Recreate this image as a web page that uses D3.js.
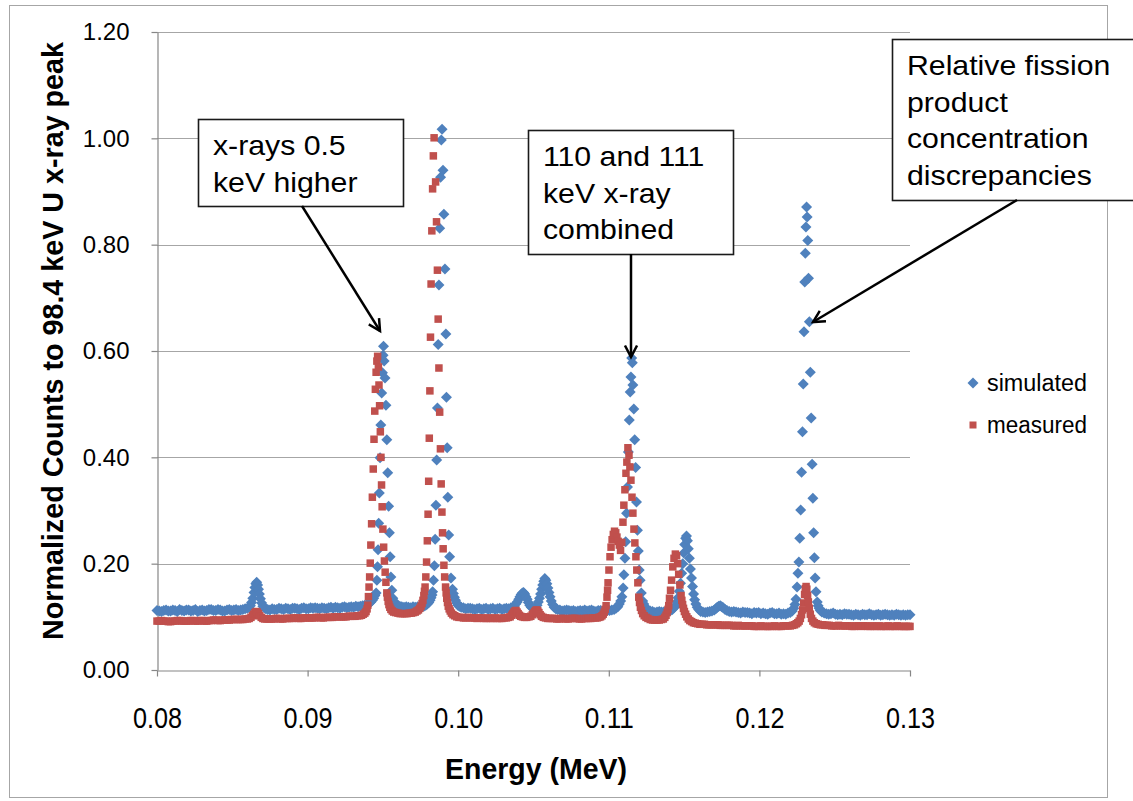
<!DOCTYPE html>
<html>
<head>
<meta charset="utf-8">
<script src="https://cdn.jsdelivr.net/npm/d3@7"></script>
<style>
  html, body { margin: 0; padding: 0; background: #ffffff; }
  svg { display: block; }
</style>
</head>
<body>
<svg id="chart" width="1133" height="801"></svg>
<script>
// Axis ticks
const xTickValues = [0.08, 0.09, 0.10, 0.11, 0.12, 0.13];
const xTickLabels = ["0.08", "0.09", "0.10", "0.11", "0.12", "0.13"];
const yTickValues = [0, 0.2, 0.4, 0.6, 0.8, 1.0, 1.2];
const yTickLabels = ["0.00", "0.20", "0.40", "0.60", "0.80", "1.00", "1.20"];
const seriesNames = ["simulated", "measured"];

// Spectra: [energy (keV), counts normalized to the 98.4 keV U x-ray peak]
const simulated = [
  [80.0,.112],[80.15,.111],[80.3,.110],[80.45,.112],[80.6,.113],[80.75,.111],[80.9,.111],[81.05,.113],[81.2,.112],[81.35,.110],
  [81.5,.114],[81.65,.112],[81.8,.111],[81.95,.113],[82.1,.113],[82.25,.111],[82.4,.112],[82.55,.114],[82.7,.110],[82.85,.112],
  [83.0,.113],[83.15,.111],[83.3,.112],[83.45,.114],[83.6,.114],[83.75,.112],[83.9,.112],[84.05,.114],[84.2,.113],[84.35,.111],
  [84.5,.111],[84.65,.113],[84.8,.114],[84.95,.112],[85.1,.113],[85.25,.114],[85.4,.112],[85.55,.113],[85.7,.114],[85.85,.115],[86.0,.116],
  [86.1,.118],[86.2,.121],[86.28,.127],[86.36,.135],[86.44,.146],[86.5,.155],[86.56,.162],[86.62,.165],[86.68,.160],[86.74,.152],
  [86.8,.143],[86.87,.134],[86.95,.126],[87.03,.120],[87.12,.117],[87.22,.115],
  [87.35,.114],[87.5,.113],[87.65,.115],[87.8,.114],[87.95,.114],[88.1,.116],[88.25,.115],[88.4,.114],[88.55,.116],[88.7,.115],
  [88.85,.114],[89.0,.116],[89.15,.116],[89.3,.115],[89.45,.114],[89.6,.116],[89.75,.117],[89.9,.115],[90.05,.115],[90.2,.117],
  [90.35,.116],[90.5,.117],[90.65,.116],[90.8,.115],[90.95,.117],[91.1,.116],[91.25,.115],[91.4,.117],[91.55,.118],[91.7,.116],
  [91.85,.118],[92.0,.117],[92.15,.116],[92.3,.118],[92.45,.119],[92.6,.117],[92.75,.118],[92.9,.119],[93.05,.118],[93.2,.120],
  [93.35,.119],[93.5,.120],[93.65,.121],[93.8,.122],[93.95,.123],[94.08,.125],[94.2,.128],[94.3,.131],[94.39,.135],[94.47,.140],
  [94.55,.145],[94.6,.169],[94.64,.194],[94.68,.226],[94.72,.276],[94.76,.333],[94.81,.399],[94.86,.461],[94.92,.521],[94.97,.559],
  [95.01,.592],[95.04,.609],[95.08,.581],[95.14,.549],[95.2,.498],[95.26,.433],[95.32,.371],[95.38,.308],[95.43,.258],[95.48,.213],
  [95.53,.175],[95.59,.150],[95.66,.135],[95.72,.130],[95.8,.126],[95.9,.123],[96.0,.121],[96.12,.120],[96.25,.119],[96.4,.118],
  [96.55,.119],[96.7,.118],[96.85,.117],[97.0,.119],[97.15,.118],[97.3,.119],[97.45,.118],[97.6,.119],[97.72,.120],[97.84,.122],
  [97.95,.124],[98.05,.127],[98.13,.131],[98.2,.136],[98.26,.141],
  [98.3,.147],[98.36,.169],[98.42,.196],[98.47,.246],[98.52,.310],[98.57,.395],[98.62,.493],[98.67,.612],[98.72,.724],[98.77,.831],
  [98.83,.927],[98.88,.997],[98.93,1.017],[98.99,.940],[99.05,.857],[99.12,.754],[99.18,.632],[99.22,.513],[99.27,.418],[99.31,.325],
  [99.37,.254],[99.43,.213],[99.52,.173],[99.62,.152],[99.68,.144],[99.75,.137],[99.82,.131],[99.9,.126],[99.98,.122],[100.08,.120],
  [100.2,.118],[100.35,.117],[100.5,.115],[100.65,.116],[100.8,.116],[100.95,.115],[101.1,.114],[101.25,.115],[101.4,.116],[101.55,.114],
  [101.7,.115],[101.85,.116],[102.0,.114],[102.15,.115],[102.3,.116],[102.45,.114],[102.6,.115],[102.75,.116],[102.9,.114],[103.05,.115],
  [103.2,.116],[103.35,.115],[103.5,.117],[103.62,.118],
  [103.72,.120],[103.82,.124],[103.92,.128],[104.02,.133],[104.1,.138],[104.18,.142],[104.26,.145],[104.34,.146],[104.42,.143],[104.5,.138],
  [104.58,.133],[104.66,.127],[104.75,.122],[104.85,.118],[104.95,.116],[105.05,.116],[105.15,.118],
  [105.24,.122],[105.32,.128],[105.4,.135],[105.47,.143],[105.54,.152],[105.61,.160],[105.68,.167],[105.75,.172],[105.82,.169],[105.89,.162],
  [105.96,.154],[106.03,.146],[106.1,.138],[106.18,.130],[106.27,.123],[106.37,.118],[106.48,.115],
  [106.6,.114],[106.75,.113],[106.9,.111],[107.05,.112],[107.2,.113],[107.35,.112],[107.5,.111],[107.65,.112],[107.8,.110],[107.95,.111],
  [108.1,.112],[108.25,.111],[108.4,.113],[108.55,.111],[108.7,.112],[108.85,.113],[109.0,.111],[109.15,.110],[109.3,.112],[109.45,.112],
  [109.6,.110],[109.75,.111],[109.9,.112],[110.05,.112],[110.2,.113],[110.35,.114],[110.48,.116],[110.6,.119],[110.7,.124],[110.79,.130],[110.87,.138],
  [110.95,.154],[111.0,.179],[111.07,.210],[111.12,.241],[111.18,.295],[111.24,.344],[111.3,.410],[111.36,.470],[111.42,.523],[111.47,.551],
  [111.52,.587],[111.56,.578],[111.6,.536],[111.66,.491],[111.72,.433],[111.78,.381],[111.84,.316],[111.9,.263],[111.96,.224],[112.02,.188],
  [112.08,.169],[112.16,.145],[112.25,.130],[112.32,.124],[112.4,.119],[112.5,.115],[112.62,.113],[112.75,.111],[112.9,.110],[113.05,.108],
  [113.2,.109],[113.35,.110],[113.5,.109],[113.65,.109],[113.8,.110],[113.95,.111],[114.1,.112],[114.22,.114],[114.33,.117],
  [114.43,.121],[114.52,.128],[114.6,.136],[114.68,.148],[114.76,.163],[114.84,.182],[114.91,.200],[114.98,.220],[115.04,.236],[115.1,.248],
  [115.16,.252],[115.22,.243],[115.28,.228],[115.35,.210],[115.42,.190],[115.49,.173],[115.56,.157],[115.63,.143],[115.7,.132],[115.78,.124],
  [115.87,.118],[115.97,.114],
  [116.1,.110],[116.25,.109],[116.4,.108],[116.55,.109],[116.7,.110],[116.85,.111],[117.0,.113],[117.1,.115],[117.2,.118],[117.3,.120],
  [117.4,.121],[117.5,.119],[117.6,.117],[117.72,.114],[117.85,.112],[118.0,.110],[118.15,.109],[118.3,.110],[118.45,.109],[118.6,.108],
  [118.75,.107],[118.9,.109],[119.05,.108],[119.2,.108],[119.35,.107],[119.5,.106],[119.65,.108],[119.8,.107],[119.95,.108],[120.1,.106],
  [120.25,.107],[120.4,.106],[120.55,.105],[120.7,.107],[120.85,.108],[121.0,.106],[121.15,.106],[121.3,.107],[121.45,.105],[121.6,.106],
  [121.75,.105],[121.9,.107],[122.05,.108],[122.18,.111],[122.28,.116],[122.36,.123],[122.43,.133],
  [122.5,.156],[122.56,.182],[122.62,.203],[122.68,.248],[122.74,.301],[122.8,.372],[122.86,.448],[122.91,.538],[122.96,.636],[123.01,.730],
  [123.05,.784],[123.09,.833],[123.13,.871],[123.17,.852],[123.21,.808],[123.26,.737],[123.32,.655],[123.38,.560],[123.44,.474],[123.5,.387],
  [123.55,.323],[123.6,.258],[123.65,.211],[123.7,.173],[123.76,.147],[123.84,.128],[123.9,.121],[123.97,.116],[124.05,.112],[124.15,.109],
  [124.3,.107],[124.45,.106],[124.6,.105],[124.75,.106],[124.9,.107],[125.05,.105],[125.2,.104],[125.35,.105],[125.5,.104],[125.65,.106],
  [125.8,.105],[125.95,.105],[126.1,.104],[126.25,.103],[126.4,.105],[126.55,.104],[126.7,.103],[126.85,.105],[127.0,.104],[127.15,.104],
  [127.3,.106],[127.45,.104],[127.6,.103],[127.75,.104],[127.9,.105],[128.05,.103],[128.2,.104],[128.35,.105],[128.5,.104],[128.65,.103],
  [128.8,.104],[128.95,.103],[129.1,.105],[129.25,.104],[129.4,.103],[129.55,.104],[129.7,.103],[129.85,.104],[130.0,.104]
];

const measured = [
  [80.0,.092],[80.15,.092],[80.3,.093],[80.45,.092],[80.6,.092],[80.75,.091],[80.9,.091],[81.05,.092],[81.2,.092],[81.35,.093],
  [81.5,.093],[81.65,.092],[81.8,.092],[81.95,.092],[82.1,.092],[82.25,.093],[82.4,.093],[82.55,.092],[82.7,.092],[82.85,.093],
  [83.0,.093],[83.15,.092],[83.3,.092],[83.45,.093],[83.6,.093],[83.75,.094],[83.9,.094],[84.05,.093],[84.2,.093],[84.35,.094],
  [84.5,.094],[84.65,.094],[84.8,.094],[84.95,.095],[85.1,.095],[85.25,.095],[85.4,.095],[85.55,.095],[85.7,.095],[85.85,.096],[86.0,.096],
  [86.12,.097],[86.24,.099],[86.34,.102],[86.42,.105],[86.5,.108],[86.58,.110],[86.66,.109],[86.74,.106],[86.82,.102],[86.92,.099],
  [87.03,.097],[87.15,.096],
  [87.3,.096],[87.45,.096],[87.6,.096],[87.75,.096],[87.9,.097],[88.05,.097],[88.2,.096],[88.35,.096],[88.5,.097],[88.65,.097],
  [88.8,.097],[88.95,.097],[89.1,.098],[89.25,.098],[89.4,.097],[89.55,.097],[89.7,.098],[89.85,.098],[90.0,.098],[90.15,.098],
  [90.3,.098],[90.45,.098],[90.6,.099],[90.75,.099],[90.9,.098],[91.05,.098],[91.2,.099],[91.35,.099],[91.5,.099],[91.65,.099],
  [91.8,.100],[91.95,.100],[92.1,.100],[92.25,.100],[92.4,.100],[92.55,.100],[92.7,.101],[92.85,.101],[93.0,.101],[93.15,.101],
  [93.3,.102],[93.45,.102],[93.58,.103],[93.7,.105],[93.8,.107],[93.88,.110],[93.95,.115],[94.0,.122],[94.04,.138],
  [94.08,.156],[94.12,.175],[94.16,.201],[94.2,.235],[94.25,.275],[94.3,.325],[94.36,.378],[94.41,.434],[94.46,.487],[94.5,.528],
  [94.55,.560],[94.6,.581],[94.65,.590],[94.7,.570],[94.74,.536],[94.78,.497],[94.83,.448],[94.87,.400],[94.91,.348],[94.95,.307],
  [95.0,.265],[95.05,.231],[95.1,.205],[95.15,.184],[95.2,.165],[95.26,.145],[95.3,.137],[95.35,.129],[95.4,.123],[95.46,.118],
  [95.53,.114],[95.62,.111],[95.72,.109],[95.85,.108],[96.0,.107],[96.15,.106],[96.3,.106],[96.45,.106],[96.6,.106],[96.75,.107],
  [96.9,.107],[97.03,.108],[97.15,.109],[97.26,.111],[97.36,.113],[97.45,.116],[97.53,.120],[97.6,.125],[97.66,.131],[97.72,.140],[97.76,.148],
  [97.8,.156],[97.85,.175],[97.9,.203],[97.95,.243],[98.0,.293],[98.04,.355],[98.08,.436],[98.12,.525],[98.16,.626],[98.2,.726],
  [98.25,.826],[98.3,.905],[98.35,.967],[98.4,1.001],[98.5,.918],[98.56,.843],[98.62,.752],[98.67,.660],[98.72,.568],[98.77,.485],
  [98.82,.416],[98.87,.350],[98.92,.297],[98.96,.258],[99.0,.228],[99.05,.197],[99.1,.175],[99.16,.156],[99.2,.145],[99.24,.135],
  [99.29,.127],[99.34,.120],[99.4,.115],[99.47,.111],[99.55,.107],[99.65,.104],[99.77,.102],[99.9,.100],[100.05,.099],[100.2,.099],
  [100.35,.098],[100.5,.098],[100.65,.099],[100.8,.098],[100.95,.098],[101.1,.098],[101.25,.097],[101.4,.098],[101.55,.098],[101.7,.097],
  [101.85,.097],[102.0,.098],[102.15,.097],[102.3,.097],[102.45,.098],[102.6,.097],[102.75,.097],[102.9,.097],[103.05,.098],[103.2,.098],
  [103.33,.099],[103.45,.100],[103.55,.103],[103.63,.106],[103.7,.109],[103.77,.111],[103.84,.112],[103.91,.109],[103.98,.106],[104.06,.103],
  [104.15,.101],[104.27,.100],[104.4,.099],[104.55,.099],[104.7,.100],[104.82,.101],[104.92,.104],[105.0,.107],[105.08,.110],[105.15,.112],
  [105.22,.113],[105.29,.111],[105.36,.108],[105.44,.104],[105.53,.101],[105.65,.099],[105.8,.098],
  [105.95,.097],[106.1,.097],[106.25,.097],[106.4,.097],[106.55,.096],[106.7,.096],[106.85,.097],[107.0,.097],[107.15,.096],[107.3,.096],
  [107.45,.097],[107.6,.097],[107.75,.097],[107.9,.097],[108.05,.096],[108.2,.096],[108.35,.097],[108.5,.097],[108.65,.097],[108.8,.097],
  [108.95,.098],[109.1,.098],[109.22,.098],[109.34,.099],[109.45,.100],[109.55,.102],[109.63,.105],[109.7,.109],[109.76,.114],[109.82,.121],
  [109.88,.137],[109.92,.150],
  [109.95,.164],[110.01,.188],[110.08,.213],[110.15,.231],[110.22,.245],[110.3,.255],[110.38,.261],[110.46,.258],[110.54,.250],[110.62,.242],
  [110.7,.235],[110.78,.225],[110.86,.240],[110.94,.278],[111.0,.310],[111.07,.339],[111.14,.370],[111.2,.391],[111.27,.418],[111.34,.404],
  [111.4,.382],[111.47,.357],[111.54,.325],[111.6,.295],[111.67,.265],[111.73,.239],[111.8,.213],[111.86,.188],[111.93,.164],[111.99,.137],
  [112.04,.127],[112.1,.118],[112.17,.112],[112.25,.106],[112.35,.102],[112.47,.099],[112.6,.097],[112.75,.095],[112.9,.094],[113.05,.094],
  [113.2,.094],[113.35,.094],[113.5,.095],[113.62,.096],[113.72,.099],[113.8,.103],[113.87,.108],[113.93,.114],[113.98,.121],
  [114.03,.135],[114.1,.150],[114.17,.169],[114.25,.194],[114.33,.210],[114.42,.218],[114.5,.215],[114.57,.200],[114.64,.180],[114.72,.160],
  [114.8,.140],[114.85,.131],[114.9,.123],[114.96,.116],[115.02,.110],[115.1,.105],[115.18,.100],[115.28,.096],[115.38,.093],[115.5,.091],
  [115.62,.089],[115.75,.088],[115.9,.087],
  [116.05,.086],[116.2,.086],[116.35,.086],[116.5,.085],[116.65,.085],[116.8,.085],[116.95,.085],[117.1,.085],[117.25,.085],[117.4,.084],
  [117.55,.084],[117.7,.084],[117.85,.084],[118.0,.084],[118.15,.084],[118.3,.083],[118.45,.083],[118.6,.084],[118.75,.083],[118.9,.083],
  [119.05,.083],[119.2,.083],[119.35,.083],[119.5,.083],[119.65,.082],[119.8,.082],[119.95,.082],[120.1,.083],[120.25,.082],[120.4,.082],
  [120.55,.082],[120.7,.082],[120.85,.082],[121.0,.083],[121.15,.082],[121.3,.082],[121.45,.082],[121.6,.083],[121.75,.083],[121.9,.083],
  [122.05,.083],[122.2,.084],[122.33,.085],[122.45,.087],[122.55,.089],[122.64,.092],[122.72,.097],[122.8,.104],[122.87,.113],[122.94,.126],
  [123.0,.142],[123.05,.153],[123.1,.157],[123.15,.152],[123.2,.140],[123.25,.128],[123.31,.116],[123.38,.105],[123.46,.097],[123.55,.092],
  [123.65,.089],[123.77,.087],[123.9,.086],
  [124.05,.085],[124.2,.085],[124.35,.084],[124.5,.084],[124.65,.084],[124.8,.083],[124.95,.083],[125.1,.083],[125.25,.084],[125.4,.083],
  [125.55,.083],[125.7,.083],[125.85,.083],[126.0,.083],[126.15,.082],[126.3,.082],[126.45,.083],[126.6,.083],[126.75,.082],[126.9,.083],
  [127.05,.083],[127.2,.082],[127.35,.082],[127.5,.083],[127.65,.082],[127.8,.082],[127.95,.083],[128.1,.082],[128.25,.082],[128.4,.082],
  [128.55,.083],[128.7,.082],[128.85,.082],[129.0,.082],[129.15,.083],[129.3,.082],[129.45,.082],[129.6,.082],[129.75,.082],[129.9,.082],[130.0,.082]
];

// Callout boxes: lines of text and where each arrow points
const callouts = [
  { lines: ["x-rays 0.5", "keV higher"], box: [198, 119, 205, 87], arrow: [302, 206, 380, 331] },
  { lines: ["110 and 111", "keV x-ray", "combined"], box: [528, 130, 205, 124], arrow: [631, 254, 631, 357] },
  { lines: ["Relative fission", "product", "concentration", "discrepancies"], box: [892, 39, 250, 161], arrow: [1017, 200, 813, 322] }
];

const COLORS = { simulated: "#4F81BD", measured: "#C0504D" };
const plot = { left: 157, right: 910, top: 32, bottom: 670 };

const svg = d3.select("#chart");
svg.append("rect").attr("width", 1133).attr("height", 801).attr("fill", "#fff");

// outer chart frame
svg.append("rect")
  .attr("x", 9.5).attr("y", 5.5).attr("width", 1098).attr("height", 792)
  .attr("fill", "none").attr("stroke", "#a6a6a6").attr("stroke-width", 1);

const x = d3.scaleLinear().domain([0.08, 0.13]).range([plot.left, plot.right]);
const y = d3.scaleLinear().domain([0, 1.2]).range([plot.bottom, plot.top]);

// horizontal gridlines
svg.append("g").selectAll("line")
  .data(yTickValues.filter(v => v > 0))
  .join("line")
  .attr("x1", plot.left).attr("x2", plot.right)
  .attr("y1", d => Math.round(y(d)) + 0.5).attr("y2", d => Math.round(y(d)) + 0.5)
  .attr("stroke", "#a6a6a6").attr("stroke-width", 1.2);

// y axis
const yAxis = svg.append("g")
  .attr("transform", `translate(${plot.left + 0.5},0)`)
  .call(d3.axisLeft(y).tickValues(yTickValues)
    .tickFormat((d, i) => yTickLabels[i]).tickSizeInner(6).tickSizeOuter(0).tickPadding(22));
yAxis.select(".domain").attr("stroke", "#868686").attr("stroke-width", 1.2);
yAxis.selectAll(".tick line").attr("stroke", "#868686").attr("stroke-width", 1.2);
yAxis.selectAll(".tick text")
  .attr("font-family", "'Liberation Sans', Arial, sans-serif")
  .attr("font-size", 24).attr("fill", "#000");

// x axis
const xAxis = svg.append("g")
  .attr("transform", `translate(0,${plot.bottom + 0.5})`)
  .call(d3.axisBottom(x).tickValues(xTickValues)
    .tickFormat((d, i) => xTickLabels[i]).tickSizeInner(6).tickSizeOuter(0).tickPadding(30));
xAxis.select(".domain").attr("stroke", "#868686").attr("stroke-width", 1.2);
xAxis.selectAll(".tick line").attr("stroke", "#868686").attr("stroke-width", 1.2);
xAxis.selectAll(".tick text")
  .attr("font-family", "'Liberation Sans', Arial, sans-serif")
  .attr("font-size", 30).attr("fill", "#000")
  .attr("textLength", 49).attr("lengthAdjust", "spacingAndGlyphs");

// axis titles
svg.append("text")
  .attr("x", 536).attr("y", 779)
  .attr("text-anchor", "middle")
  .attr("font-family", "'Liberation Sans', Arial, sans-serif")
  .attr("font-weight", "bold").attr("font-size", 30)
  .attr("textLength", 182).attr("lengthAdjust", "spacingAndGlyphs")
  .text("Energy (MeV)");

svg.append("text")
  .attr("transform", "translate(63,341) rotate(-90)")
  .attr("text-anchor", "middle")
  .attr("font-family", "'Liberation Sans', Arial, sans-serif")
  .attr("font-weight", "bold").attr("font-size", 30)
  .attr("textLength", 598).attr("lengthAdjust", "spacingAndGlyphs")
  .text("Normalized Counts to 98.4 keV U  x-ray peak");

// markers
const diamond = "M0,-5.5L5.5,0L0,5.5L-5.5,0Z";
const SQ = 7.5;

svg.append("g").attr("class", "simulated")
  .selectAll("path")
  .data(simulated)
  .join("path")
  .attr("d", diamond)
  .attr("transform", d => `translate(${x(d[0] / 1000)},${y(d[1])})`)
  .attr("fill", COLORS.simulated);

svg.append("g").attr("class", "measured")
  .selectAll("rect")
  .data(measured)
  .join("rect")
  .attr("x", d => x(d[0] / 1000) - SQ / 2)
  .attr("y", d => y(d[1]) - SQ / 2)
  .attr("width", SQ).attr("height", SQ)
  .attr("fill", COLORS.measured);

// legend
const legend = svg.append("g").attr("transform", "translate(973,0)");
const legendRows = [{ name: seriesNames[0], cy: 383 }, { name: seriesNames[1], cy: 425 }];
legendRows.forEach(r => {
  if (r.name === "simulated") {
    legend.append("path").attr("d", diamond).attr("transform", `translate(0,${r.cy})`).attr("fill", COLORS.simulated);
  } else {
    legend.append("rect").attr("x", -3.5).attr("y", r.cy - 3.5).attr("width", 7).attr("height", 7).attr("fill", COLORS.measured);
  }
  legend.append("text")
    .attr("x", 14).attr("y", r.cy + 8)
    .attr("font-family", "'Liberation Sans', Arial, sans-serif")
    .attr("font-size", 23).attr("fill", "#000")
    .attr("textLength", 100).attr("lengthAdjust", "spacingAndGlyphs")
    .text(r.name);
});

// callouts with arrows
function arrow(g, x1, y1, x2, y2) {
  g.append("line").attr("x1", x1).attr("y1", y1).attr("x2", x2).attr("y2", y2)
    .attr("stroke", "#000").attr("stroke-width", 2.5);
  const ang = Math.atan2(y2 - y1, x2 - x1);
  const len = 13, spread = Math.PI / 6.5;
  const p1 = [x2 - len * Math.cos(ang - spread), y2 - len * Math.sin(ang - spread)];
  const p2 = [x2 - len * Math.cos(ang + spread), y2 - len * Math.sin(ang + spread)];
  g.append("path")
    .attr("d", `M${p1[0]},${p1[1]}L${x2},${y2}L${p2[0]},${p2[1]}`)
    .attr("fill", "none").attr("stroke", "#000").attr("stroke-width", 2.5)
    .attr("stroke-linejoin", "miter");
}

const notes = svg.append("g");
callouts.forEach(c => {
  const [bx, by, bw, bh] = c.box;
  notes.append("rect").attr("x", bx + 0.5).attr("y", by + 0.5).attr("width", bw).attr("height", bh)
    .attr("fill", "#fff").attr("stroke", "#1a1a1a").attr("stroke-width", 1.6);
  const t = notes.append("text")
    .attr("font-family", "'Liberation Sans', Arial, sans-serif")
    .attr("font-size", 28).attr("fill", "#000")
    .attr("transform", `translate(${bx + 15},${by + 36}) scale(1.08,1)`);
  c.lines.forEach((line, i) => {
    t.append("tspan").attr("x", 0).attr("y", i * 36.6).text(line);
  });
  arrow(notes, ...c.arrow);
});
</script>
</body>
</html>
